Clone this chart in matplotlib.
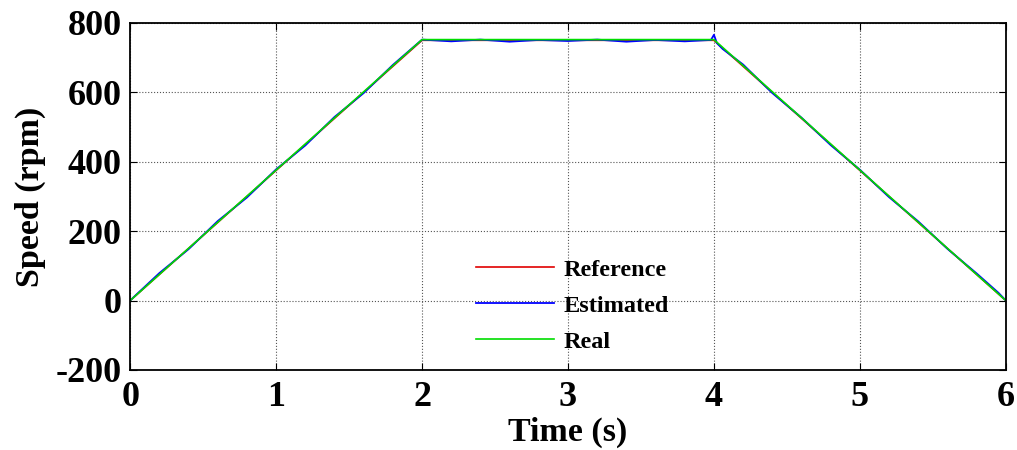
import matplotlib.pyplot as plt

# speed profile: ramp up, hold, ramp down
t_ref = [0, 2, 4, 6]
speed_ref = [0, 750, 750, 0]

# estimated speed (sensorless observer), slight ripple and overshoot at 4 s
t_est = [0, 0.05, 0.2, 0.4, 0.6, 0.8, 1.0, 1.2, 1.4, 1.6, 1.8, 2.0,
         2.2, 2.4, 2.6, 2.8, 3.0, 3.2, 3.4, 3.6, 3.8, 3.98,
         4.0, 4.02, 4.06, 4.2, 4.4, 4.6, 4.8, 5.0, 5.2, 5.4, 5.6, 5.8, 5.95, 6.0]
speed_est = [0, 20, 79, 148, 229, 297, 378, 447, 529, 598, 679, 752,
             747, 752, 746, 751, 748, 752, 746, 751, 747, 751,
             766, 742, 725, 680, 598, 527, 448, 377, 298, 228, 149, 78, 22, 0]

# measured speed
t_real = [0, 2, 4, 6]
speed_real = [0, 752, 752, 0]

plt.rcParams['font.family'] = ['Liberation Serif', 'DejaVu Serif']
plt.rcParams['font.weight'] = 'bold'
plt.rcParams['axes.unicode_minus'] = False

fig, ax = plt.subplots(figsize=(10.17, 4.5), dpi=100)
fig.subplots_adjust(left=0.128, right=0.989, top=0.949, bottom=0.178)

ax.plot(t_ref, speed_ref, color='#e00000', lw=1.2, label='Reference')
ax.plot(t_est, speed_est, color='#0000ff', lw=1.3, label='Estimated')
ax.plot(t_real, speed_real, color='#00dd00', lw=1.2, label='Real')

ax.set_xlim(0, 6)
ax.set_ylim(-200, 800)
ax.set_xticks(range(0, 7))
ax.set_yticks([-200, 0, 200, 400, 600, 800])
ax.grid(True, color='#555555', linestyle=':', linewidth=0.8)
ax.tick_params(direction='in', top=True, right=True, labelsize=26, length=5)
ax.tick_params(axis='x', pad=8)
ax.tick_params(axis='y', pad=6)
for lab in ax.get_xticklabels() + ax.get_yticklabels():
    lab.set_fontweight('bold')
for sp in ax.spines.values():
    sp.set_linewidth(1.3)

ax.set_xlabel('Time (s)', fontsize=24.5, fontweight='bold', labelpad=2)
ax.set_ylabel('Speed (rpm)', fontsize=24.5, fontweight='bold', labelpad=7)

leg = ax.legend(frameon=False, loc='center left', bbox_to_anchor=(0.37, 0.185),
                fontsize=17.5, handlelength=3.2, handletextpad=0.4, labelspacing=0.58)
for txt in leg.get_texts():
    txt.set_fontweight('bold')

fig.savefig('out.png', dpi=100)
